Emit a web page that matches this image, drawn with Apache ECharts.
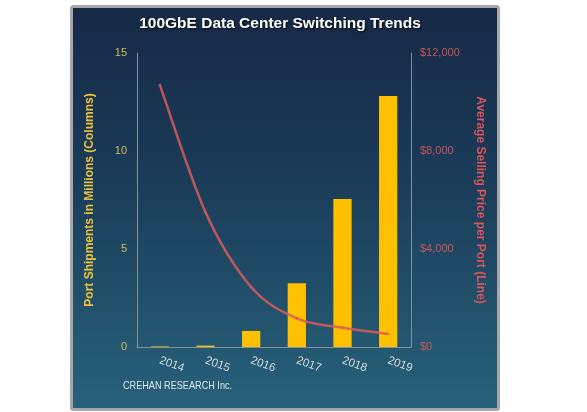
<!DOCTYPE html>
<html>
<head>
<meta charset="utf-8">
<script src="https://cdn.jsdelivr.net/npm/echarts@6/dist/echarts.min.js"></script>
<style>
html,body{margin:0;padding:0;background:#fff;}
#c{width:587px;height:412px;}
</style>
</head>
<body>
<div id="c"></div>
<script>
var years = ['2014','2015','2016','2017','2018','2019'];
var shipments = [0.03, 0.07, 0.82, 3.25, 7.55, 12.8];
var asp = [10700, 5500, 2450, 1170, 790, 540];
var leftTicks = [0, 5, 10, 15];
var rightTicks = [0, 4000, 8000, 12000];

// smoothed line segment (Catmull-Rom style, like the spreadsheet's smoothed line),
// every point placed through the chart's own axes with api.coord
function renderSmoothSegment(params, api) {
  var i = params.dataIndex;
  var n = asp.length;
  if (i >= n - 1) return null;
  var P = function (k) {
    k = Math.max(0, Math.min(n - 1, k));
    return api.coord([k, asp[k]]);
  };
  var p0 = P(i - 1), p1 = P(i), p2 = P(i + 1), p3 = P(i + 2);
  var t = 1 / 6;
  return {
    type: 'bezierCurve',
    shape: {
      x1: p1[0], y1: p1[1],
      cpx1: p1[0] + (p2[0] - p0[0]) * t, cpy1: p1[1] + (p2[1] - p0[1]) * t,
      cpx2: p2[0] - (p3[0] - p1[0]) * t, cpy2: p2[1] - (p3[1] - p1[1]) * t,
      x2: p2[0], y2: p2[1]
    },
    style: {stroke: '#dc5a5c', lineWidth: 2.5, fill: null, opacity: 0.85, lineCap: 'round'}
  };
}

var chart = echarts.init(document.getElementById('c'), null, {renderer:'canvas'});
chart.setOption({
  backgroundColor: '#ffffff',
  animation: false,
  graphic: [{
    type: 'rect',
    z: -10,
    silent: true,
    shape: {x: 71.5, y: 6.5, width: 427, height: 403, r: 2},
    style: {
      fill: new echarts.graphic.LinearGradient(0,0,0,1,[
        {offset:0, color:'#162846'},
        {offset:0.45, color:'#1b3d5a'},
        {offset:1, color:'#27627a'}
      ]),
      stroke: '#a7a7a7',
      lineWidth: 3
    }
  },{
    type: 'text',
    x: 123, y: 380, scaleX: 0.83,
    style: {text: 'CREHAN RESEARCH Inc.', fill: '#dfe6ea', font: '11px "Liberation Sans", Arial, sans-serif'}
  }],
  title: {
    text: '100GbE Data Center Switching Trends',
    left: 275, top: 11, textAlign: 'center',
    textStyle: {color:'#ffffff', fontSize: 15.5, fontWeight:'bold', fontFamily:'Liberation Sans, Arial, sans-serif',
      textShadowColor:'rgba(0,0,0,0.8)', textShadowBlur:2, textShadowOffsetX:1, textShadowOffsetY:1}
  },
  grid: {left: 137, right: 176, top: 53, bottom: 65},
  xAxis: {
    type: 'category',
    data: years,
    axisLine: {show:true, lineStyle:{color:'#7f93a3', width:1}},
    axisTick: {show:false},
    axisLabel: {color:'#d6dde2', fontSize: 11.5, rotate: -20, margin: 13, fontFamily:'Liberation Sans, Arial, sans-serif'}
  },
  yAxis: [{
    type: 'value', min: 0, max: 15, interval: 5,
    name: 'Port Shipments in Millions (Columns)',
    nameLocation: 'middle', nameGap: 41, nameRotate: 90,
    nameTextStyle: {color:'#e9c23a', fontSize: 12, fontWeight:'bold', fontFamily:'Liberation Sans, Arial, sans-serif'},
    axisLine: {show:true, lineStyle:{color:'#7f93a3', width:1}},
    axisTick: {show:false},
    splitLine: {show:false},
    axisLabel: {color:'#cdbd6a', fontSize: 11, margin: 10, fontFamily:'Liberation Sans, Arial, sans-serif',
      customValues: leftTicks}
  },{
    type: 'value', min: 0, max: 12000, interval: 4000,
    name: 'Average Selling Price per Port (Line)',
    nameLocation: 'middle', nameGap: 63, nameRotate: -90,
    nameTextStyle: {color:'#d4555a', fontSize: 12, fontWeight:'bold', fontFamily:'Liberation Sans, Arial, sans-serif'},
    axisLine: {show:true, lineStyle:{color:'#7f93a3', width:1}},
    axisTick: {show:false},
    splitLine: {show:false},
    axisLabel: {color:'#c8555a', fontSize: 11, margin: 9, fontFamily:'Liberation Sans, Arial, sans-serif',
      customValues: rightTicks,
      formatter: function(v){ return '$' + v.toLocaleString('en-US'); }}
  }],
  series: [{
    type: 'bar',
    data: shipments,
    barWidth: '40%',
    itemStyle: {color:'#ffc000'},
    z: 2
  },{
    type: 'custom',
    yAxisIndex: 1,
    data: asp.map(function (v, i) { return [i, v]; }),
    encode: {x: 0, y: 1},
    renderItem: renderSmoothSegment,
    z: 3
  }]
});
</script>
</body>
</html>
